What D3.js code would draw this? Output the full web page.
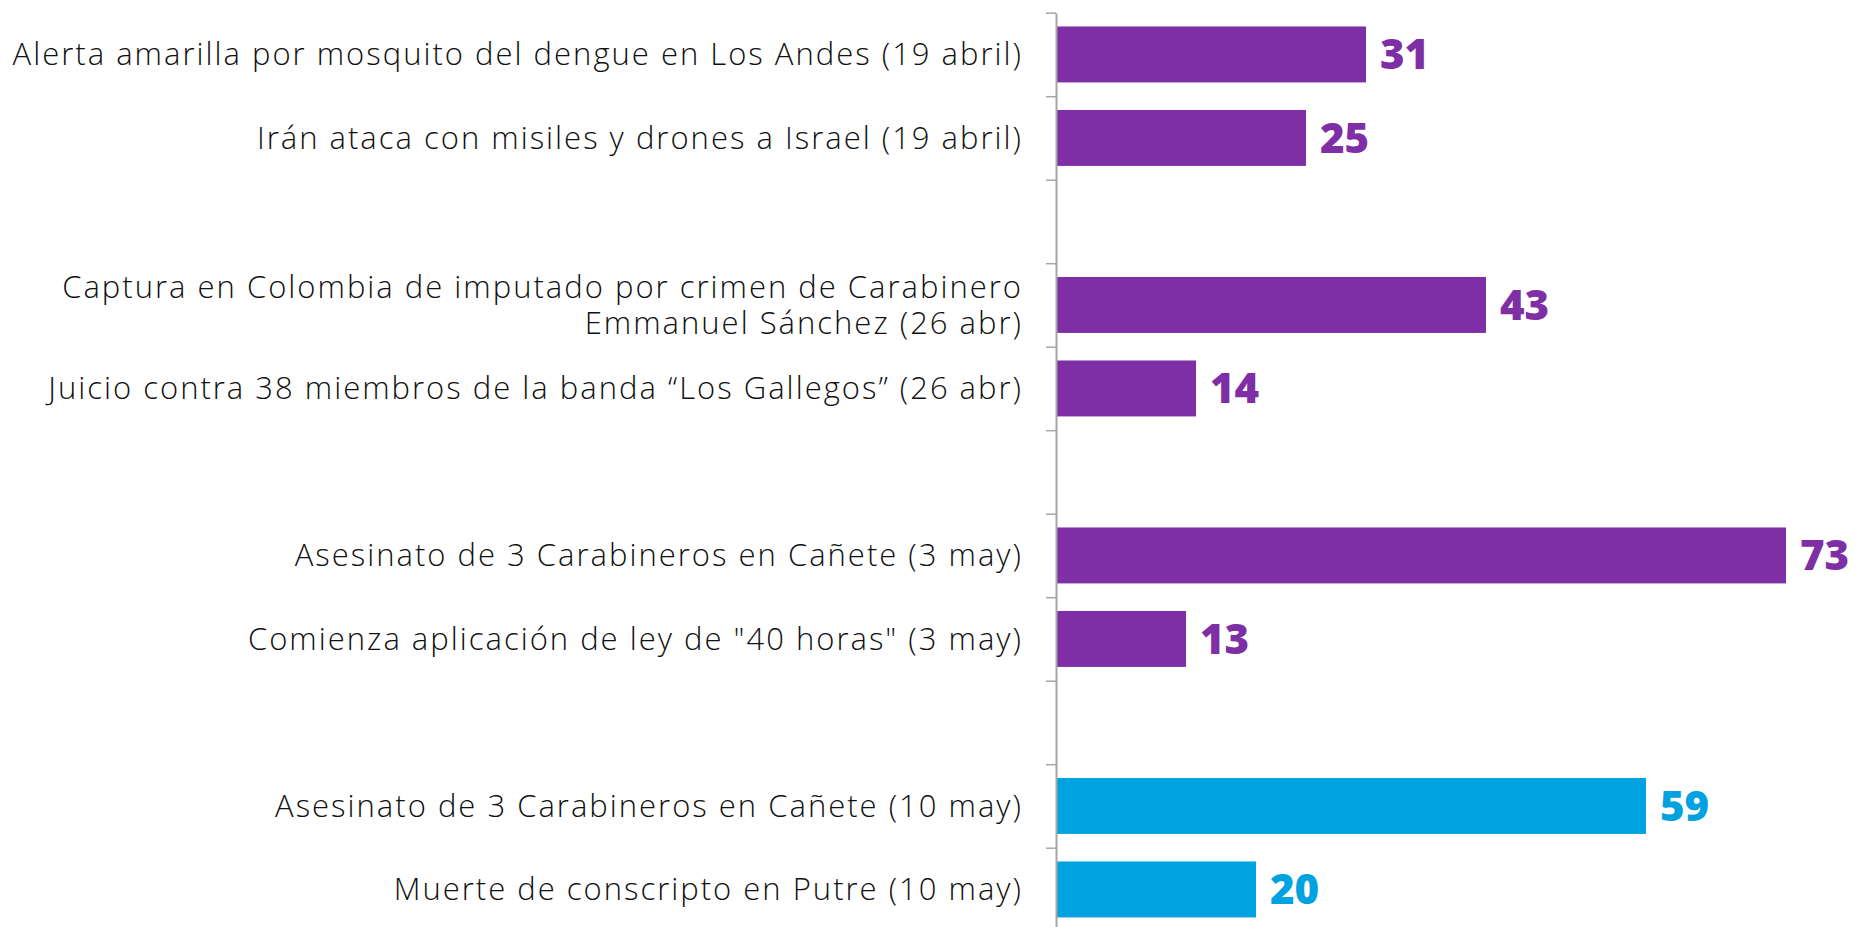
<!DOCTYPE html>
<html>
<head>
<meta charset="utf-8">
<script src="https://cdn.jsdelivr.net/npm/d3@7"></script>
<style>
  body { margin: 0; background: #fff; }
  svg { display: block; }
</style>
</head>
<body>
<div id="chart-area"></div>
<script>
// categories, top to bottom ("" = empty slot between weeks)
var categorias = [
    ["Alerta amarilla por mosquito del dengue en Los Andes (19 abril)"],
    ["Irán ataca con misiles y drones a Israel (19 abril)"],
    [""],
    ["Captura en Colombia de imputado por crimen de Carabinero", "Emmanuel Sánchez (26 abr)"],
    ["Juicio contra 38 miembros de la banda “Los Gallegos” (26 abr)"],
    [""],
    ["Asesinato de 3 Carabineros en Cañete (3 may)"],
    ["Comienza aplicación de ley de \"40 horas\" (3 may)"],
    [""],
    ["Asesinato de 3 Carabineros en Cañete (10 may)"],
    ["Muerte de conscripto en Putre (10 may)"]
];
var valores = [31, 25, null, 43, 14, null, 73, 13, null, 59, 20];
var semanas = ["19 abr", "19 abr", null, "26 abr", "26 abr", null, "3 may", "3 may", null, "10 may", "10 may"];

var width = 1862, height = 927;
var axisX = 1056;

var svg = d3.select("#chart-area")
    .append("svg")
    .attr("width", width)
    .attr("height", height);

var slots = d3.range(categorias.length);

// band scale for the bars
var y = d3.scaleBand()
    .domain(slots)
    .range([12.7, 931.2])
    .paddingInner(0.33)
    .paddingOuter(0.165);

// linear scale on the slot edges, used for the tick marks between categories
var yEdge = d3.scaleLinear()
    .domain([0, slots.length])
    .range([12.7, 931.2]);

var x = d3.scaleLinear()
    .domain([0, 80])
    .range([axisX, axisX + 800]);

// older weeks purple, latest week blue
var color = d3.scaleOrdinal()
    .domain(["19 abr", "26 abr", "3 may", "10 may"])
    .range(["#7f2fa5", "#7f2fa5", "#7f2fa5", "#00a3e0"]);

var items = slots.filter(function (i) { return valores[i] != null; });

// bars
svg.selectAll("rect.bar")
    .data(items)
    .enter()
    .append("rect")
    .attr("class", "bar")
    .attr("x", x(0))
    .attr("y", function (i) { return y(i); })
    .attr("width", function (i) { return x(valores[i]) - x(0); })
    .attr("height", y.bandwidth())
    .attr("fill", function (i) { return color(semanas[i]); });

// axis
var yAxisCall = d3.axisLeft(yEdge)
    .tickValues(d3.range(0, slots.length + 1))
    .tickSize(10)
    .tickSizeOuter(0)
    .tickFormat("");

var axisG = svg.append("g")
    .attr("transform", "translate(" + axisX + ",0)")
    .call(yAxisCall);
axisG.select(".domain").attr("stroke", "#a6a6a6").attr("stroke-width", 2);
axisG.selectAll(".tick line").attr("stroke", "#a6a6a6").attr("stroke-width", 1.5);

// category labels
var labelG = svg.selectAll("text.cat")
    .data(items)
    .enter()
    .append("text")
    .attr("class", "cat")
    .attr("x", axisX - 33)
    .attr("text-anchor", "end")
    .attr("font-family", "'Open Sans', sans-serif")
    .attr("font-weight", 300)
    .attr("font-size", "31px")
    .attr("letter-spacing", "2px")
    .attr("fill", "#111");

labelG.each(function (i) {
    var lines = categorias[i];
    var cy = y(i) + y.bandwidth() / 2;
    var lh = 36.5;
    var first = cy + 11 - (lines.length - 1) * lh / 2;
    var t = d3.select(this);
    lines.forEach(function (l, k) {
        t.append("tspan")
            .attr("x", axisX - 33)
            .attr("y", first + k * lh)
            .text(l);
    });
});

// value labels
svg.selectAll("text.val")
    .data(items)
    .enter()
    .append("text")
    .attr("class", "val")
    .attr("x", function (i) { return x(valores[i]) + 14; })
    .attr("y", function (i) { return y(i) + y.bandwidth() / 2 + 15; })
    .attr("font-family", "'Open Sans', sans-serif")
    .attr("font-weight", 800)
    .attr("font-size", "42px")
    .attr("fill", function (i) { return color(semanas[i]); })
    .text(function (i) { return valores[i]; });
</script>
</body>
</html>
